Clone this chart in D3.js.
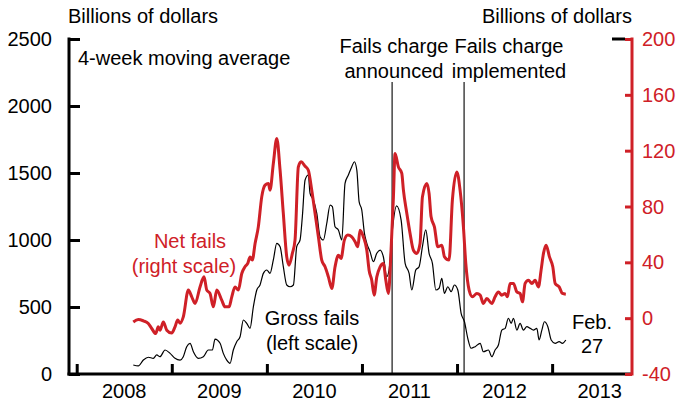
<!DOCTYPE html>
<html>
<head>
<meta charset="utf-8">
<script src="https://cdn.jsdelivr.net/npm/d3@7"></script>
<style>
  html, body { margin: 0; padding: 0; background: #fff; }
  svg { display: block; }
  text { font-family: "Liberation Sans", Arial, sans-serif; }
</style>
</head>
<body>
<svg id="chart" width="676" height="404"></svg>
<script>
// ---- Data (decimal years) ----
const yearTicks = [2008, 2009, 2010, 2011, 2012, 2013, 2014];
const yearLabels = ["2008", "2009", "2010", "2011", "2012", "2013"];
const leftTicks = [0, 500, 1000, 1500, 2000, 2500];
const rightTicks = [-40, 0, 40, 80, 120, 160, 200];
const eventDates = [2011.317, 2012.074];
const eventLabels = [["Fails charge", "announced"], ["Fails charge", "implemented"]];

const grossDates = [2008.595,2008.648,2008.701,2008.753,2008.806,2008.842,2008.876,2008.929,2008.982,2009.034,2009.087,2009.121,2009.157,2009.192,2009.227,2009.279,2009.332,2009.384,2009.427,2009.455,2009.508,2009.542,2009.578,2009.613,2009.647,2009.683,2009.718,2009.753,2009.788,2009.823,2009.858,2009.894,2009.928,2009.963,2009.999,2010.033,2010.068,2010.104,2010.139,2010.173,2010.209,2010.244,2010.279,2010.314,2010.349,2010.373,2010.402,2010.436,2010.454,2010.489,2010.525,2010.559,2010.594,2010.630,2010.665,2010.689,2010.717,2010.752,2010.788,2010.822,2010.857,2010.893,2010.920,2010.946,2010.970,2010.998,2011.026,2011.051,2011.085,2011.120,2011.156,2011.191,2011.225,2011.261,2011.285,2011.320,2011.364,2011.412,2011.454,2011.496,2011.524,2011.566,2011.601,2011.636,2011.671,2011.706,2011.741,2011.777,2011.811,2011.840,2011.867,2011.903,2011.938,2011.972,2012.008,2012.043,2012.078,2012.113,2012.148,2012.190,2012.243,2012.277,2012.330,2012.366,2012.400,2012.435,2012.471,2012.506,2012.540,2012.569,2012.593,2012.629,2012.663,2012.698,2012.734,2012.769,2012.803,2012.839,2012.863,2012.892,2012.919,2012.955,2012.990,2013.032,2013.074,2013.108,2013.144];
const grossValues = [67,60,104,125,117,142,129,179,154,117,104,129,204,229,166,117,129,179,179,261,229,154,104,80,179,241,278,403,378,341,502,627,664,751,776,751,851,975,950,801,664,651,664,950,1000,1174,1448,1485,1349,1299,1199,1025,1000,1125,1261,1249,1099,1075,1000,1423,1485,1547,1584,1522,1286,1224,1050,975,913,838,901,925,875,726,776,1075,1254,1149,826,751,627,776,801,950,1075,901,826,627,640,714,602,651,614,664,627,453,390,266,192,204,229,166,179,129,179,216,328,341,416,378,416,328,378,328,353,341,328,341,254,328,390,353,254,229,241,229,254];

const netDates = [2008.595,2008.648,2008.701,2008.753,2008.789,2008.831,2008.858,2008.876,2008.911,2008.947,2008.999,2009.034,2009.062,2009.087,2009.121,2009.174,2009.210,2009.245,2009.297,2009.339,2009.368,2009.402,2009.437,2009.473,2009.525,2009.560,2009.602,2009.631,2009.665,2009.700,2009.736,2009.770,2009.799,2009.823,2009.847,2009.876,2009.910,2009.946,2009.981,2010.016,2010.033,2010.068,2010.104,2010.139,2010.173,2010.209,2010.233,2010.268,2010.296,2010.331,2010.360,2010.402,2010.436,2010.472,2010.507,2010.542,2010.577,2010.612,2010.647,2010.683,2010.717,2010.752,2010.780,2010.815,2010.851,2010.893,2010.928,2010.956,2010.980,2011.015,2011.051,2011.075,2011.103,2011.128,2011.156,2011.191,2011.225,2011.251,2011.278,2011.306,2011.331,2011.348,2011.383,2011.419,2011.436,2011.472,2011.506,2011.541,2011.577,2011.611,2011.636,2011.682,2011.706,2011.727,2011.762,2011.798,2011.840,2011.868,2011.916,2011.951,2011.998,2012.032,2012.067,2012.092,2012.127,2012.162,2012.208,2012.243,2012.277,2012.313,2012.366,2012.400,2012.435,2012.471,2012.506,2012.530,2012.558,2012.593,2012.629,2012.663,2012.688,2012.716,2012.751,2012.787,2012.821,2012.856,2012.884,2012.909,2012.937,2012.972,2013.007,2013.032,2013.074,2013.108,2013.144];
const netValues = [-2.7,-0.9,-1.9,-3.8,-7.4,-11.0,-6.2,-8.6,-2.7,-8.6,-10.7,-6.2,-1.4,-3.6,0.9,20.1,15.3,10.5,22.4,29.6,20.1,17.7,8.1,20.1,12.9,8.1,8.1,15.3,22.4,20.1,32.0,36.8,39.2,43.9,41.6,53.5,65.4,86.9,95.3,96.5,91.7,110.8,128.7,106.0,75.0,43.9,38.0,46.4,55.9,108.4,112.0,108.9,106.0,91.7,75.0,58.2,41.6,36.8,29.6,21.3,36.8,45.1,42.8,55.9,59.5,58.2,54.7,51.1,63.0,58.2,48.7,34.4,27.2,16.5,29.6,36.8,39.2,27.2,17.7,48.7,86.9,118.0,108.4,103.7,91.7,75.0,60.7,48.7,46.4,53.5,86.9,96.5,89.3,72.6,65.4,51.1,52.3,43.9,41.6,84.5,104.8,91.7,65.4,39.2,20.1,15.3,17.7,16.5,10.5,14.1,10.5,15.3,18.8,16.5,17.7,15.3,24.9,24.9,18.8,17.7,11.7,24.9,27.2,24.9,27.2,22.4,34.4,46.4,52.3,43.9,36.8,24.9,22.4,17.7,17.2];

// ---- Layout ----
const RED = "#cf2027";
const svg = d3.select("#chart");
const mLeft = 69, mRight = 632, mTop = 39, mBottom = 374;

const x = d3.scaleLinear().domain([2007.919, 2013.84]).range([mLeft, mRight]);
const yL = d3.scaleLinear().domain([0, 2500]).range([mBottom, mTop]);
const yR = d3.scaleLinear().domain([-40, 200]).range([mBottom, mTop]);

const fs = "20px";

// Event lines
eventDates.forEach(d => {
  svg.append("line")
    .attr("x1", x(d)).attr("x2", x(d))
    .attr("y1", 82).attr("y2", mBottom)
    .attr("stroke", "#000").attr("stroke-width", 1.1);
});

// Series
const grossLine = d3.line().x((d, i) => x(grossDates[i])).y(d => yL(d)).curve(d3.curveMonotoneX);
svg.append("path").datum(grossValues)
  .attr("d", grossLine).attr("fill", "none")
  .attr("stroke", "#000").attr("stroke-width", 1.2).attr("stroke-linejoin", "round");

const netLine = d3.line().x((d, i) => x(netDates[i])).y(d => yR(d)).curve(d3.curveMonotoneX);
svg.append("path").datum(netValues)
  .attr("d", netLine).attr("fill", "none")
  .attr("stroke", RED).attr("stroke-width", 3).attr("stroke-linejoin", "round");

// Left axis
const gL = svg.append("g").attr("transform", `translate(${mLeft},0)`)
  .call(d3.axisRight(yL).tickValues(leftTicks).tickSize(11).tickFormat(""));
gL.select(".domain").remove();
gL.selectAll(".tick line").attr("stroke", "#000").attr("stroke-width", 3);
svg.append("line").attr("x1", mLeft).attr("x2", mLeft).attr("y1", mTop - 1.5).attr("y2", mBottom + 1.5)
  .attr("stroke", "#000").attr("stroke-width", 3);
svg.append("g").selectAll("text").data(leftTicks).join("text")
  .attr("x", 52).attr("y", d => yL(d)).attr("dy", "0.35em")
  .attr("text-anchor", "end").attr("font-size", fs).attr("fill", "#000")
  .text(d => d);

// Bottom axis
const gB = svg.append("g").attr("transform", `translate(0,${mBottom})`)
  .call(d3.axisTop(x).tickValues(yearTicks.filter(t => x(t) <= mRight)).tickSize(10).tickFormat(""));
gB.select(".domain").remove();
gB.selectAll(".tick line").attr("stroke", "#000").attr("stroke-width", 3);
svg.append("line").attr("x1", mLeft - 1.5).attr("x2", mRight).attr("y1", mBottom).attr("y2", mBottom)
  .attr("stroke", "#000").attr("stroke-width", 3);
svg.append("g").selectAll("text").data(yearLabels).join("text")
  .attr("x", d => x(+d + 0.5)).attr("y", 398)
  .attr("text-anchor", "middle").attr("font-size", fs).attr("fill", "#000")
  .text(d => d);

// small black top-right segment
svg.append("line").attr("x1", 612).attr("x2", 625).attr("y1", mTop).attr("y2", mTop)
  .attr("stroke", "#000").attr("stroke-width", 3);

// Right axis
const gR = svg.append("g").attr("transform", `translate(${mRight},0)`)
  .call(d3.axisLeft(yR).tickValues(rightTicks).tickSize(7).tickFormat(""));
gR.select(".domain").remove();
gR.selectAll(".tick line").attr("stroke", RED).attr("stroke-width", 3);
svg.append("line").attr("x1", mRight).attr("x2", mRight).attr("y1", mTop - 1.5).attr("y2", mBottom + 1.5)
  .attr("stroke", RED).attr("stroke-width", 3);
svg.append("g").selectAll("text").data(rightTicks).join("text")
  .attr("x", 642).attr("y", d => yR(d)).attr("dy", "0.35em")
  .attr("text-anchor", "start").attr("font-size", fs).attr("fill", RED)
  .text(d => d);

// Titles
svg.append("text").attr("x", 68).attr("y", 23).attr("font-size", fs).text("Billions of dollars");
svg.append("text").attr("x", 632).attr("y", 23).attr("text-anchor", "end").attr("font-size", fs).text("Billions of dollars");
svg.append("text").attr("x", 78).attr("y", 65).attr("font-size", fs).text("4-week moving average");

// Event labels
const evX = [394, 509];
eventLabels.forEach((lines, i) => {
  lines.forEach((t, j) => {
    svg.append("text").attr("x", evX[i]).attr("y", 53 + j * 25)
      .attr("text-anchor", "middle").attr("font-size", fs).text(t);
  });
});

// Series labels
svg.append("text").attr("x", 190).attr("y", 248).attr("text-anchor", "middle").attr("font-size", fs).attr("fill", RED).text("Net fails");
svg.append("text").attr("x", 184).attr("y", 273).attr("text-anchor", "middle").attr("font-size", fs).attr("fill", RED).text("(right scale)");
svg.append("text").attr("x", 312).attr("y", 325).attr("text-anchor", "middle").attr("font-size", fs).text("Gross fails");
svg.append("text").attr("x", 312).attr("y", 350).attr("text-anchor", "middle").attr("font-size", fs).text("(left scale)");
svg.append("text").attr("x", 592).attr("y", 329).attr("text-anchor", "middle").attr("font-size", fs).text("Feb.");
svg.append("text").attr("x", 592).attr("y", 353).attr("text-anchor", "middle").attr("font-size", fs).text("27");
</script>
</body>
</html>
